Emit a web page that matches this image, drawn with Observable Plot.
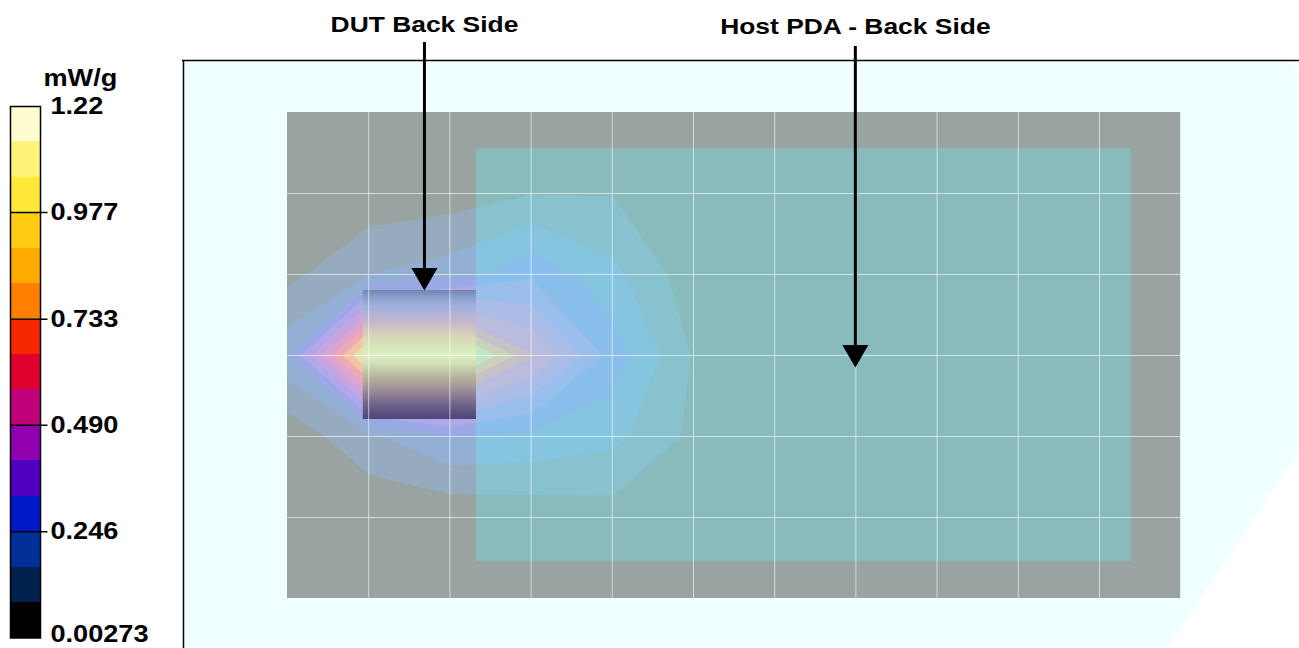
<!DOCTYPE html>
<html><head><meta charset="utf-8">
<script src="https://cdn.jsdelivr.net/npm/d3@7"></script>
<script src="https://cdn.jsdelivr.net/npm/@observablehq/plot@0.6"></script>
<style>
html,body{margin:0;padding:0;background:#fff;}
#wrap{display:flex;width:1299px;height:648px;overflow:hidden;}
#wrap svg{display:block;flex:none;}
</style></head><body><div id="wrap"></div>
<script>
// ---------- legend data ----------
const unit = "mW/g";
const legendMin = 0.00273, legendMax = 1.22;
const legendTickValues = [1.22, 0.977, 0.733, 0.490, 0.246];
const legendTickLabels = ["1.22", "0.977", "0.733", "0.490", "0.246"];
const legendBottomValue = 0.00273;
const legendBottomLabel = "0.00273";
const legendInnerTicks = [0.977, 0.733, 0.490, 0.246];
// bottom -> top
const legendColors = ["#000000", "#00204e", "#003096", "#0018c8", "#5000c0", "#9000b0", "#c0007a", "#e0002e",
  "#f52800", "#ff7f00", "#ffaa00", "#ffcc14", "#ffe83a", "#fff27a", "#fffcd0"];

// ---------- SAR area scan (mW/g), 15 mm grid, rows top (y=90) -> bottom (y=0) ----------
const sarGridX = [0, 15, 30, 45, 60, 75, 90, 105, 120, 135, 150, 165];
const sarGridY = [90, 75, 60, 45, 30, 15, 0];
const sarRow0 = [0.005, 0.005, 0.007, 0.008, 0.008, 0.006, 0.005, 0.004, 0.004, 0.003, 0.003, 0.003];
const sarRow1 = [0.011, 0.027, 0.043, 0.080, 0.080, 0.019, 0.011, 0.007, 0.005, 0.004, 0.003, 0.003];
const sarRow2 = [0.060, 0.165, 0.205, 0.311, 0.189, 0.035, 0.015, 0.008, 0.006, 0.004, 0.003, 0.003];
const sarRow3 = [0.222, 0.854, 0.935, 0.579, 0.295, 0.076, 0.019, 0.009, 0.006, 0.004, 0.003, 0.003];
const sarRow4 = [0.027, 0.149, 0.246, 0.230, 0.190, 0.065, 0.015, 0.008, 0.005, 0.004, 0.003, 0.003];
const sarRow5 = [0.007, 0.011, 0.019, 0.027, 0.045, 0.019, 0.011, 0.006, 0.004, 0.003, 0.003, 0.003];
const sarRow6 = [0.004, 0.004, 0.005, 0.005, 0.005, 0.005, 0.004, 0.004, 0.003, 0.003, 0.003, 0.003];
const sarRows = [sarRow0, sarRow1, sarRow2, sarRow3, sarRow4, sarRow5, sarRow6];

// rendered (washed) colours of the contour levels, low -> high
const contourColors = ["#96acbe", "#93b0d4", "#9aa8e6", "#b0a8e8", "#c8a4e0", "#dca4d0", "#eeaab4",
  "#f4c4a0", "#e4e0b0", "#d8ecb8", "#dcf2c4", "#e0f4c8", "#e2f6cc", "#e4f8d0"];

// ---------- geometry of the set-up (mm) ----------
const scanArea = {x1: 0, x2: 165, y1: 0, y2: 90};
const hostPDA = {x1: 34.9, x2: 155.9, y1: 6.85, y2: 83.3};
const dutBox = {x1: 14.0, x2: 34.9, y1: 33.15, y2: 57.04};
// DUT image, top -> bottom
const dutColors = ["#6e87af", "#8ca2cd", "#a0afdc", "#b2b4d8", "#c4b8cc", "#d4c6c0", "#d8d8b8", "#d6e6b8",
  "#dcf0c4", "#d2e2b8", "#c2c8a6", "#b2b09a", "#a49898", "#8e7e96", "#74688e", "#5e5482", "#504676"];
const phantomX = [-19.4, 162.75, 184.91, 186.95];
const phantomLow = [-9.26, -9.26, 24.32, 27.41];
const phantomHigh = [99.63, 99.63, 99.63, 96.67];
const frameTop = 99.63;
const labels = ["DUT Back Side", "Host PDA - Back Side"];
const arrowX = [25.3, 104.9];
const arrowTop = [102.96, 102.22];
const arrowTip = [57.04, 42.78];
const labelY = [105.0, 104.6];

const FONT = "'Liberation Sans', Arial, Helvetica, sans-serif";

// ---------- derived tables ----------
const legendEdges = d3.range(16).map(i => legendMin + i * (legendMax - legendMin) / 15);
const legendSegments = legendColors.map((c, i) => ({lo: legendEdges[i], hi: legendEdges[i + 1], color: c}));
const legendLabels = legendTickValues.map((v, i) => ({value: v, label: legendTickLabels[i]}));
const contourThresholds = legendEdges.slice(1, 15);

// grid values, bottom row first, samples centred on the grid intersections
const sarValues = sarRows.slice().reverse().flat();
const stepX = sarGridX[1] - sarGridX[0], stepY = sarGridY[0] - sarGridY[1];
const gridExtent = {
  x1: sarGridX[0] - stepX / 2, x2: sarGridX[sarGridX.length - 1] + stepX / 2,
  y1: sarGridY[sarGridY.length - 1] - stepY / 2, y2: sarGridY[0] + stepY / 2
};

const phantom = phantomX.map((x, i) => ({x, lo: phantomLow[i], hi: phantomHigh[i]}));
const annotations = labels.map((l, i) => ({label: l, x: arrowX[i], top: arrowTop[i], tip: arrowTip[i], ly: labelY[i]}));
const gridX = sarGridX.slice(1, -1);
const gridY = sarGridY.slice(1, -1);

// ---------- legend ----------
const legendText = {textAnchor: "start", fontSize: 24, fontWeight: "bold", fill: "black"};
const legend = Plot.plot({
  width: 182, height: 648,
  marginLeft: 10, marginRight: 142, marginTop: 106, marginBottom: 10.5,
  x: {domain: [0, 1], axis: null},
  y: {domain: [legendMin, legendMax], axis: null},
  color: {type: "identity"},
  style: {fontFamily: FONT, background: "white", overflow: "visible"},
  marks: [
    Plot.rect(legendSegments, {x1: 0, x2: 1, y1: "lo", y2: "hi", fill: "color", shapeRendering: "crispEdges"}),
    Plot.ruleY(legendInnerTicks, {x1: 0, x2: 1.25, stroke: "black", strokeWidth: 1.5}),
    Plot.frame({stroke: "black", strokeWidth: 1.5}),
    Plot.text(legendLabels, {x: 1, y: "value", text: "label", dx: 10, ...legendText}),
    Plot.text([legendBottomLabel], {x: 1, y: legendBottomValue, dx: 10, dy: -4, ...legendText}),
    Plot.text([unit], {x: 0, y: legendMax, dx: 33, dy: -21, lineAnchor: "bottom", ...legendText})
  ]
});

// ---------- main picture ----------
const xDomain = [-19.397, 186.95];
const yDomain = [-9.259, 110.741];
const main = Plot.plot({
  width: 1117, height: 648, margin: 0,
  x: {domain: xDomain, axis: null},
  y: {domain: yDomain, axis: null},
  style: {fontFamily: FONT, background: "white"},
  marks: [
    Plot.area(phantom, {x1: "x", y1: "lo", y2: "hi", fill: "#f0ffff"}),
    Plot.ruleY([frameTop], {stroke: "black", strokeWidth: 1.5}),
    Plot.ruleX([xDomain[0]], {y1: yDomain[0], y2: frameTop, dx: 1, stroke: "black", strokeWidth: 1.5}),
    Plot.rect([scanArea], {x1: "x1", x2: "x2", y1: "y1", y2: "y2", fill: "#98a3a2"}),
    ...contourThresholds.map((t, i) => Plot.contour(sarValues, {
      value: d => d, width: sarGridX.length, height: sarGridY.length,
      x1: gridExtent.x1, x2: gridExtent.x2, y1: gridExtent.y1, y2: gridExtent.y2,
      thresholds: [t], fill: contourColors[i], stroke: "none"
    })),
    Plot.rect([hostPDA], {x1: "x1", x2: "x2", y1: "y1", y2: "y2", fill: "rgb(105,246,249)", fillOpacity: 0.3}),
    Plot.rect([dutBox], {x1: "x1", x2: "x2", y1: "y1", y2: "y2", fill: "url(#dutGradient)"}),
    Plot.ruleX(gridX, {y1: scanArea.y1, y2: scanArea.y2, stroke: "white", strokeOpacity: 0.6, strokeWidth: 1}),
    Plot.ruleY(gridY, {x1: scanArea.x1, x2: scanArea.x2, stroke: "white", strokeOpacity: 0.6, strokeWidth: 1}),
    Plot.ruleX(annotations, {x: "x", y1: "top", y2: d => d.tip + 3, stroke: "black", strokeWidth: 3}),
    Plot.dot(annotations, {x: "x", y: "tip", symbol: "triangle", r: 9.7, rotate: 180, fill: "black", stroke: "none", dy: -15}),
    Plot.text(annotations, {x: "x", y: "ly", text: "label", lineAnchor: "bottom", textAnchor: "middle", fontSize: 22, fontWeight: "bold", fill: "black"})
  ]
});

// gradient for the DUT image and clip of the contours to the scan area
const sx = main.scale("x"), sy = main.scale("y");
const defs = d3.select(main).insert("defs", ":first-child");
const grad = defs.append("linearGradient").attr("id", "dutGradient")
  .attr("x1", 0).attr("y1", 0).attr("x2", 0).attr("y2", 1);
dutColors.forEach((c, i) => grad.append("stop").attr("offset", i / (dutColors.length - 1)).attr("stop-color", c));
defs.append("clipPath").attr("id", "scanClip").append("rect")
  .attr("x", sx.apply(scanArea.x1)).attr("y", sy.apply(scanArea.y2))
  .attr("width", sx.apply(scanArea.x2) - sx.apply(scanArea.x1))
  .attr("height", sy.apply(scanArea.y1) - sy.apply(scanArea.y2));
d3.select(main).selectAll('g[aria-label="contour"]').attr("clip-path", "url(#scanClip)");

const wrap = document.getElementById("wrap");
wrap.appendChild(legend);
wrap.appendChild(main);

function stretchTexts(svg, factor) {
  svg.querySelectorAll("text").forEach(t => {
    const len = t.getComputedTextLength();
    if (len > 0) {
      t.setAttribute("textLength", len * factor);
      t.setAttribute("lengthAdjust", "spacingAndGlyphs");
    }
  });
}
stretchTexts(legend, 1.13);
stretchTexts(main, 1.2);
</script>
</body></html>
